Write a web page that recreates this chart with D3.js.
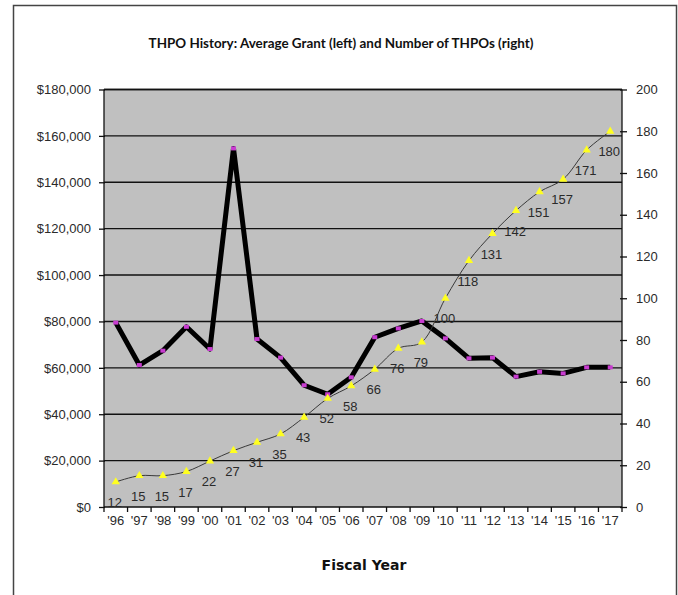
<!DOCTYPE html>
<html><head><meta charset="utf-8">
<script src="https://cdn.jsdelivr.net/npm/d3@7"></script>
<style>body{margin:0;background:#fff}svg{display:block}</style>
</head><body>
<svg id="c" width="678" height="595"></svg>
<script>
const years = ["'96","'97","'98","'99","'00","'01","'02","'03","'04","'05","'06","'07","'08","'09","'10","'11","'12","'13","'14","'15","'16","'17"];
const avgGrant = [79500,61200,67400,77700,68100,154600,72400,64400,52500,48600,55900,73200,77000,80200,72700,64100,64400,56200,58300,57600,60200,60200];
const thpoCount = [12,15,15,17,22,27,31,35,43,52,58,66,76,79,100,118,131,142,151,157,171,180];
const leftTicks = [0,20000,40000,60000,80000,100000,120000,140000,160000,180000];
const rightTicks = [0,20,40,60,80,100,120,140,160,180,200];

const svg = d3.select('#c');
const L = 104, R = 622, T = 89.5, B = 507;

svg.append('rect').attr('x',13.5).attr('y',5.5).attr('width',663).attr('height',620)
  .attr('fill','#fff').attr('stroke','#444').attr('stroke-width',1.5);

const x = d3.scaleBand().domain(years).range([L,R]).padding(0);
const yL = d3.scaleLinear().domain([0,180000]).range([B,T]);
const yR = d3.scaleLinear().domain([0,200]).range([B,T]);

svg.append('rect').attr('x',L).attr('y',T).attr('width',R-L).attr('height',B-T).attr('fill','#c0c0c0');

// gridlines
svg.append('g').selectAll('line').data(leftTicks.filter(d=>d>0)).join('line')
  .attr('x1',L).attr('x2',R).attr('y1',d=>yL(d)).attr('y2',d=>yL(d))
  .attr('stroke','#111').attr('stroke-width',1.4);

const font = "'Liberation Sans', Arial, sans-serif";
const fmt = d => '$' + d3.format(',')(d);

const ax1 = svg.append('g').attr('transform',`translate(${L},0)`)
  .call(d3.axisLeft(yL).tickValues(leftTicks).tickFormat(fmt).tickSize(5).tickPadding(8));
const ax2 = svg.append('g').attr('transform',`translate(${R},0)`)
  .call(d3.axisRight(yR).tickValues(rightTicks).tickSize(5).tickPadding(9));
const tickBounds = years.map((d,i)=>i).concat([years.length]);
const ax3 = svg.append('g').attr('transform',`translate(0,${B})`)
  .call(d3.axisBottom(x).tickSize(0).tickPadding(9));
ax3.selectAll('.tick line').remove();
ax3.append('g').selectAll('line').data(tickBounds).join('line')
  .attr('x1',i=>L+i*x.step()).attr('x2',i=>L+i*x.step()).attr('y1',0).attr('y2',5)
  .attr('stroke','#111').attr('stroke-width',1.3);

[ax1,ax2,ax3].forEach(a=>{
  a.selectAll('.domain').attr('stroke','#111').attr('stroke-width',1.3);
  a.selectAll('.tick line').attr('stroke','#111').attr('stroke-width',1.3);
  a.selectAll('text').attr('font-family',font).attr('font-size','13px').attr('fill','#2a2a2a');
});
ax2.selectAll('.tick line').attr('x1',-2);
ax1.selectAll('.tick line').attr('x2',-5).attr('x1',1);
ax1.select('.domain').attr('d',`M0,${T}V${B}`);
ax2.select('.domain').attr('d',`M0,${T}V${B}`);
ax3.select('.domain').attr('d',`M${L},0H${R}`);
svg.append('line').attr('x1',L).attr('x2',R).attr('y1',T).attr('y2',T).attr('stroke','#111').attr('stroke-width',1.3);

const cx = d => x(d) + x.bandwidth()/2;

// grant line
svg.append('path').datum(avgGrant)
  .attr('d', d3.line().x((d,i)=>cx(years[i])).y(d=>yL(d)))
  .attr('fill','none').attr('stroke','#000').attr('stroke-width',5).attr('stroke-linejoin','round');
svg.append('g').selectAll('rect').data(avgGrant).join('rect')
  .attr('x',(d,i)=>cx(years[i])-2.5).attr('y',d=>yL(d)-2).attr('width',5).attr('height',4)
  .attr('fill','#c83cd0');

// THPO line
svg.append('path').datum(thpoCount)
  .attr('d', d3.line().x((d,i)=>cx(years[i])).y(d=>yR(d)).curve(d3.curveCatmullRom.alpha(0.5)))
  .attr('fill','none').attr('stroke','#3a3a3a').attr('stroke-width',1);
const tri = d3.symbol().type(d3.symbolTriangle).size(30);
svg.append('g').selectAll('path').data(thpoCount).join('path')
  .attr('d',tri).attr('transform',(d,i)=>`translate(${cx(years[i])},${yR(d)})`)
  .attr('fill','#ffff20');
svg.append('g').selectAll('text').data(thpoCount).join('text')
  .attr('x',(d,i)=>cx(years[i])-1).attr('y',d=>yR(d)+25)
  .attr('text-anchor','middle').attr('font-family',font).attr('font-size','13px').attr('fill','#2a2a2a')
  .text(d=>d);

// title
const title = svg.append('text').attr('x',341).attr('y',48).attr('text-anchor','middle')
  .attr('font-family',"Lato, sans-serif").attr('font-weight','bold').attr('font-size','14px').attr('fill','#111')
  .text('THPO History: Average Grant (left) and Number of THPOs (right)');
const tw = title.node().getComputedTextLength();
title.attr('font-size', (14*385/tw).toFixed(2)+'px');

svg.append('text').attr('x',364).attr('y',570).attr('text-anchor','middle')
  .attr('font-family',"'DejaVu Sans', sans-serif").attr('font-weight','bold').attr('font-size','14px').attr('fill','#111')
  .text('Fiscal Year');
</script>
</body></html>
